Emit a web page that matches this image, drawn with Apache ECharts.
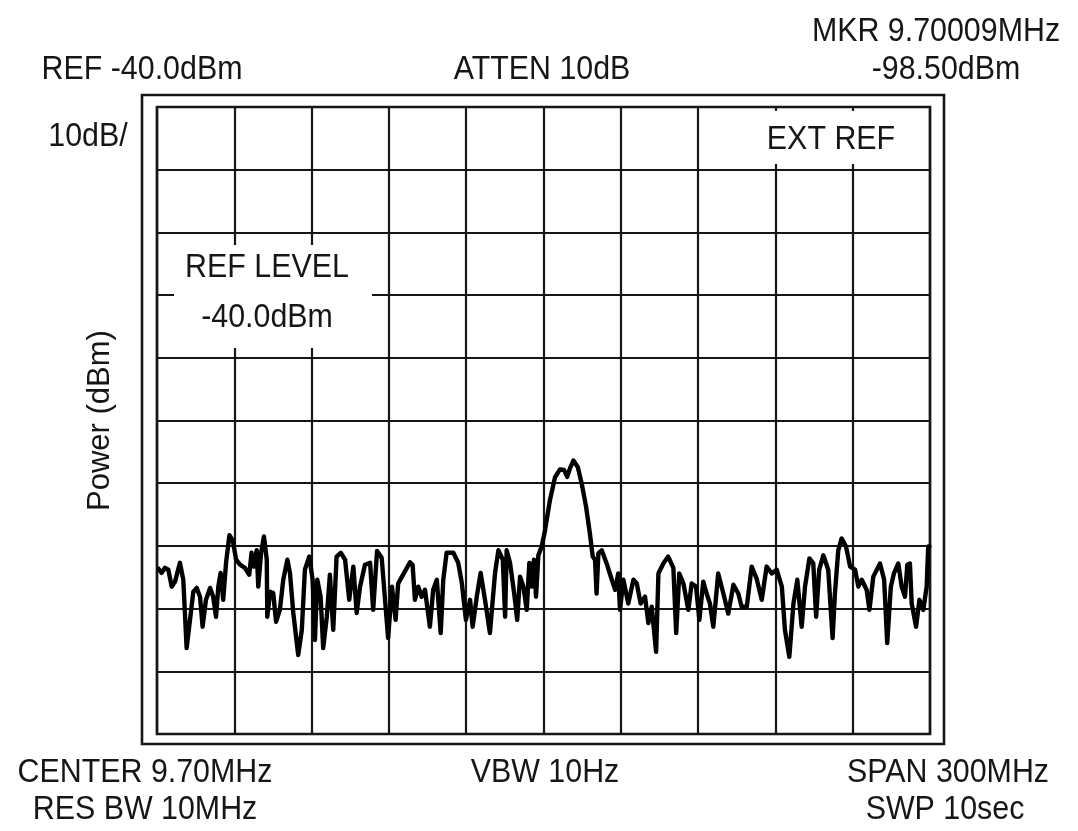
<!DOCTYPE html>
<html>
<head>
<meta charset="utf-8">
<script src="https://cdn.jsdelivr.net/npm/echarts@6/dist/echarts.min.js"></script>
<style>
html,body{margin:0;padding:0;background:#fff;}
#chart{width:1078px;height:831px;}
</style>
</head>
<body>
<div id="chart"></div>
<script>
// Frequency offset from center (MHz), span 300 MHz
const freqMHz = [-149.5,-148.2,-146.9,-145.6,-144.3,-143.0,-141.1,-139.8,-138.5,-137.2,
-135.9,-134.6,-133.3,-132.3,-131.0,-129.4,-128.2,-127.1,-126.2,-125.3,
-124.3,-123.2,-121.9,-120.6,-119.3,-117.8,-115.9,-114.2,-113.3,-112.4,
-111.3,-110.7,-109.6,-108.5,-107.4,-107.2,-106.1,-104.9,-103.8,-102.3,
-101.0,-99.4,-98.4,-97.1,-95.2,-93.8,-92.6,-90.9,-89.6,-88.7,
-87.8,-86.5,-85.5,-84.1,-82.9,-81.6,-80.3,-78.7,-77.0,-75.4,
-73.8,-72.5,-71.2,-69.3,-67.3,-66.1,-64.6,-62.8,-60.3,-58.8,
-57.4,-56.4,-54.1,-51.8,-50.8,-49.9,-48.6,-47.3,-46.0,-44.1,
-42.8,-41.4,-39.9,-38.9,-37.6,-35.0,-33.1,-31.7,-30.1,-28.5,
-27.5,-25.9,-24.4,-22.7,-20.8,-18.8,-17.5,-15.8,-14.9,-14.3,
-13.0,-11.4,-10.2,-9.1,-7.8,-6.5,-5.5,-4.6,-3.7,-2.9,
-2.0,-0.7,0.6,2.5,4.5,6.4,8.0,9.2,10.3,11.6,
13.3,14.8,16.5,18.0,19.1,20.0,20.6,21.3,22.6,24.5,
26.5,27.8,29.0,29.7,31.0,32.9,34.9,36.2,37.7,39.4,
40.7,42.0,43.7,44.6,46.5,48.4,50.4,51.5,52.7,54.3,
56.2,57.5,59.2,60.5,62.0,63.3,64.6,65.9,67.8,69.8,
71.7,73.7,75.6,76.9,78.9,80.8,82.7,84.7,86.6,88.6,
90.5,92.5,93.7,95.4,97.0,98.5,100.2,101.5,103.2,104.7,
105.8,107.0,108.6,110.5,112.2,113.1,114.4,115.7,117.4,119.0,
120.9,122.2,123.5,125.4,126.5,128.0,130.6,132.2,133.4,134.8,
136.0,137.7,139.0,140.3,141.2,142.2,142.9,144.6,145.9,147.4,
148.7,149.3,149.8];

// Measured power (dBm)
const powerDbm = [-113.6,-114.3,-113.5,-113.8,-116.5,-115.7,-112.7,-115.4,-126.3,-121.8,
-117.3,-116.7,-118.1,-122.9,-118.6,-116.7,-118.1,-121.3,-116.5,-114.3,
-118.6,-112.7,-108.3,-109.1,-112.2,-113.0,-113.5,-114.6,-111.1,-113.3,
-110.7,-116.5,-111.1,-108.5,-112.2,-121.3,-117.3,-117.5,-122.1,-120.2,
-115.4,-112.2,-114.3,-120.7,-127.4,-123.4,-113.8,-111.7,-115.4,-125.0,
-115.4,-118.1,-126.3,-121.3,-114.6,-123.4,-111.7,-111.1,-112.2,-118.6,
-113.3,-120.7,-116.5,-113.0,-112.7,-120.2,-110.8,-111.9,-124.7,-116.5,
-121.8,-116.0,-114.3,-112.6,-113.0,-118.6,-116.5,-118.1,-117.0,-122.9,
-117.0,-115.4,-123.9,-115.4,-111.1,-111.1,-112.7,-115.9,-121.8,-118.6,
-122.9,-118.1,-114.3,-118.6,-123.9,-114.3,-110.7,-112.2,-121.3,-110.7,
-112.7,-117.5,-121.8,-114.9,-116.5,-120.2,-112.7,-116.5,-112.2,-118.1,
-111.5,-110.1,-107.5,-102.7,-99.0,-97.8,-97.9,-99.0,-97.6,-96.4,
-97.4,-100.0,-103.7,-108.0,-111.7,-112.2,-117.6,-111.2,-110.7,-112.8,
-115.4,-117.0,-114.4,-120.2,-115.4,-119.2,-115.4,-116.0,-119.2,-118.1,
-122.3,-119.7,-126.9,-114.4,-112.8,-111.7,-113.5,-123.9,-114.4,-116.0,
-120.2,-116.0,-116.5,-121.8,-115.7,-117.6,-119.2,-122.9,-114.4,-117.6,
-120.8,-116.2,-117.6,-119.7,-119.7,-113.3,-115.2,-118.6,-113.3,-114.4,
-113.8,-116.5,-123.4,-127.7,-119.2,-115.4,-122.9,-116.5,-112.0,-112.8,
-121.3,-113.8,-111.5,-113.8,-124.7,-117.6,-110.7,-108.8,-110.1,-113.3,
-113.8,-116.5,-115.4,-117.0,-120.2,-114.9,-112.8,-115.4,-125.5,-116.5,
-114.4,-112.8,-116.5,-118.1,-113.0,-112.8,-119.2,-122.9,-118.6,-120.2,
-116.5,-110.1,-110.1];

// Axis settings
const xRange = [-150, 150];   // MHz offset, 30 MHz/div
const xStep = 30;
const yRange = [-140, -40];   // dBm, 10 dB/div
const yStep = 10;

// Annotation texts
const yAxisTitle = 'Power (dBm)';
const topLeftText = 'REF -40.0dBm';
const topCenterText = 'ATTEN 10dB';
const markerLines = ['MKR 9.70009MHz', '-98.50dBm'];
const scaleText = '10dB/';
const extRefText = 'EXT REF';
const refLevelLines = ['REF LEVEL', '-40.0dBm'];
const bottomLeftLines = ['CENTER 9.70MHz', 'RES BW 10MHz'];
const bottomCenterText = 'VBW 10Hz';
const bottomRightLines = ['SPAN 300MHz', 'SWP 10sec'];

const FONT_FAMILY = '"Liberation Sans", Arial, sans-serif';
const FS = 31;
const INK = '#161616';

const seriesData = freqMHz.map((f, i) => [f, powerDbm[i]]);

function txt(text, x, y, align, rot) {
  return {
    type: 'text', z: 120, x: x, y: y, scaleY: 1.1, scaleX: 0.98, rotation: rot || 0,
    style: { text: text, x: 0, y: 0, fill: INK, font: FS + 'px ' + FONT_FAMILY,
             textAlign: align || 'center', textVerticalAlign: 'middle' }
  };
}

const chart = echarts.init(document.getElementById('chart'), null, { renderer: 'canvas' });
chart.setOption({
  backgroundColor: '#fff',
  animation: false,
  grid: { left: 157, top: 107, width: 773, height: 627, show: true,
          borderColor: INK, borderWidth: 2.6, backgroundColor: 'transparent' },
  xAxis: {
    type: 'value', min: xRange[0], max: xRange[1], interval: xStep,
    axisLine: { show: false }, axisTick: { show: false }, axisLabel: { show: false },
    splitLine: { show: true, lineStyle: { color: INK, width: 2.2 } }
  },
  yAxis: {
    type: 'value', min: yRange[0], max: yRange[1], interval: yStep,
    name: yAxisTitle, nameLocation: 'middle', nameGap: 41, nameRotate: 90,
    nameTextStyle: { color: INK, fontSize: FS, fontFamily: FONT_FAMILY },
    axisLine: { show: false }, axisTick: { show: false }, axisLabel: { show: false },
    splitLine: { show: true, lineStyle: { color: INK, width: 2.2 } }
  },
  series: [{
    type: 'line', data: seriesData, showSymbol: false, symbol: 'none',
    lineStyle: { color: '#000', width: 4.4, join: 'round', cap: 'round' },
    z: 5
  }],
  graphic: [
    { type: 'rect', z: 110, shape: { x: 142, y: 95, width: 802, height: 649 },
      style: { fill: 'none', stroke: INK, lineWidth: 2.6 } },
    { type: 'rect', z: 110, shape: { x: 760, y: 111, width: 146, height: 53 },
      style: { fill: '#fff' } },
    { type: 'rect', z: 110, shape: { x: 174, y: 245, width: 198, height: 103 },
      style: { fill: '#fff' } },
    txt(topLeftText, 142, 70),
    txt(topCenterText, 542, 70),
    txt(markerLines[0], 936, 32),
    txt(markerLines[1], 946, 70),
    txt(scaleText, 88, 137),
    txt(extRefText, 831, 140),
    txt(refLevelLines[0], 267, 268),
    txt(refLevelLines[1], 267, 318),
    txt(bottomLeftLines[0], 145, 773),
    txt(bottomLeftLines[1], 145, 810),
    txt(bottomCenterText, 545, 773),
    txt(bottomRightLines[0], 948, 773),
    txt(bottomRightLines[1], 945, 810)
  ]
});
</script>
</body>
</html>
